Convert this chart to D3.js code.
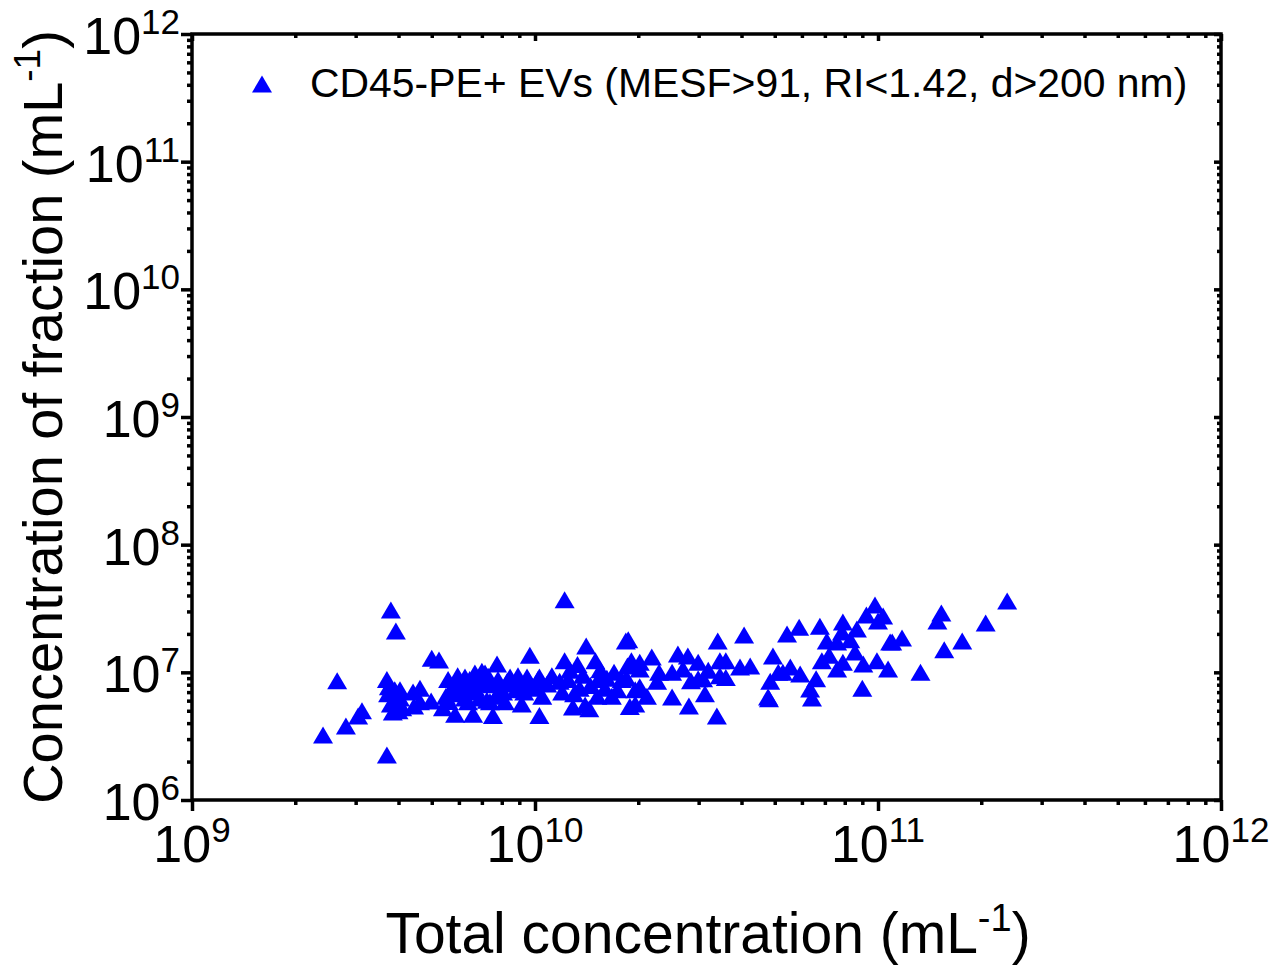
<!DOCTYPE html>
<html>
<head>
<meta charset="utf-8">
<script src="https://cdn.jsdelivr.net/npm/d3@7"></script>
<style>
  html, body { margin: 0; padding: 0; background: #fff; }
  svg text { font-family: "Liberation Sans", Arial, sans-serif; fill: #000; }
</style>
</head>
<body>
<svg id="chart" width="1274" height="968"></svg>
<script>
// total concentration (mL^-1) of each sample
const totalConc = [
  2.41e9, 2.65e9, 2.81e9, 3.05e9, 3.13e9, 3.80e9, 3.93e9, 3.70e9, 3.70e9, 3.73e9,
  3.80e9, 3.85e9, 4.04e9, 3.93e9, 4.10e9, 4.04e9, 4.41e9, 4.62e9, 4.44e9, 4.62e9,
  4.98e9, 5.00e9, 5.25e9, 5.39e9, 5.85e9, 3.75e9, 4.00e9, 3.90e9,
  5.58e9, 5.72e9, 5.95e9, 6.12e9, 6.25e9, 6.25e9, 6.45e9, 6.60e9, 6.68e9, 6.82e9,
  7.00e9, 7.15e9, 7.24e9, 7.39e9, 7.54e9, 7.75e9, 7.80e9, 7.90e9, 8.07e9, 8.17e9,
  8.46e9, 8.63e9, 8.92e9, 9.15e9, 9.48e9, 9.66e9, 9.78e9, 1.02e10, 1.03e10, 1.03e10,
  6.38e9, 6.60e9, 1.05e10, 1.085e10, 5.50e9, 5.80e9, 6.00e9, 6.30e9, 6.70e9, 6.90e9,
  7.10e9, 7.50e9, 7.70e9, 8.30e9, 8.80e9, 9.00e9, 9.30e9, 9.60e9, 1.00e10, 5.60e9, 7.30e9,
  1.18e10, 1.22e10, 1.41e10, 1.50e10, 1.84e10, 1.29e10, 1.44e10, 1.52e10, 1.62e10, 1.675e10,
  1.85e10, 1.89e10, 1.12e10, 1.265e10, 1.30e10, 1.35e10, 1.40e10, 1.53e10, 1.60e10, 1.74e10,
  1.79e10, 1.86e10, 1.91e10, 1.96e10, 2.02e10, 1.20e10, 1.25e10, 1.38e10, 1.45e10, 1.70e10,
  1.55e10, 1.33e10, 1.22e10, 1.87e10,
  3.41e10, 4.07e10, 5.43e10, 2.19e10, 2.02e10, 2.61e10, 2.79e10, 2.99e10, 3.46e10, 3.60e10,
  3.96e10, 4.24e10, 4.94e10, 5.28e10, 2.51e10, 2.70e10, 3.09e10, 2.27e10, 2.02e10, 3.46e10,
  3.60e10, 4.85e10, 2.51e10, 2.12e10, 1.96e10, 3.13e10, 2.81e10, 3.39e10, 4.81e10, 2.99e10,
  2.85e10, 3.20e10, 2.30e10,
  9.80e10, 9.25e10, 1.00e11, 7.90e10, 6.77e10, 5.89e10, 8.68e10, 7.85e10, 7.09e10, 7.60e10,
  1.175e11, 1.085e11, 8.57e10, 6.86e10, 9.93e10, 9.06e10, 1.07e11, 7.90e10, 5.55e10, 5.93e10,
  5.12e10, 6.60e10, 6.34e10, 9.00e10, 4.78e10, 6.42e10, 7.60e10, 7.20e10, 8.30e10,
  2.38e11, 1.53e11, 1.49e11, 2.06e11, 1.76e11, 1.56e11, 1.10e11, 1.035e11, 1.33e11
];

// concentration of the CD45-PE+ fraction (mL^-1), same order
const fractionConc = [
  3.23e6, 8.6e6, 3.8e6, 4.55e6, 5.0e6, 3.08e7, 2.11e7, 2.25e6, 8.8e6, 6.8e6,
  5.65e6, 4.9e6, 7.3e6, 6.05e6, 5.27e6, 6.3e6, 7.0e6, 7.5e6, 5.45e6, 5.87e6,
  5.97e6, 1.29e7, 1.25e7, 5.27e6, 4.7e6, 7.7e6, 5.0e6, 7.3e6,
  8.8e6, 7.3e6, 9.4e6, 7.5e6, 9.2e6, 6.3e6, 8.8e6, 7.0e6, 9.9e6, 8.1e6,
  1.02e7, 9.9e6, 6.05e6, 5.87e6, 4.6e6, 1.16e7, 8.8e6, 7.3e6, 7.0e6, 5.87e6,
  9.2e6, 8.1e6, 9.4e6, 5.65e6, 9.2e6, 1.36e7, 7.9e6, 8.8e6, 4.6e6, 9.2e6,
  5.87e6, 4.7e6, 6.5e6, 8.1e6, 6.5e6, 8.0e6, 6.8e6, 7.9e6, 7.5e6, 6.3e6,
  8.5e6, 8.0e6, 6.5e6, 8.5e6, 7.3e6, 8.1e6, 7.0e6, 8.5e6, 7.5e6, 5.9e6, 9.3e6,
  8.5e6, 1.23e7, 1.61e7, 1.23e7, 1.76e7, 5.36e6, 5.18e6, 6.5e6, 9.0e6, 6.5e6,
  9.0e6, 5.4e6, 9.4e6, 1.04e7, 6.8e6, 7.5e6, 5.55e6, 8.8e6, 7.5e6, 7.3e6,
  8.8e6, 1.12e7, 1.23e7, 7.3e6, 1.06e7, 7.0e6, 8.8e6, 9.5e6, 7.9e6, 1.0e7,
  1.05e7, 1.15e7, 3.7e7, 1.8e7,
  1.76e7, 1.96e7, 2.0e7, 1.32e7, 1.2e7, 1.39e7, 1.34e7, 1.2e7, 1.23e7, 1.23e7,
  1.1e7, 1.12e7, 1.34e7, 1.0e7, 1.0e7, 1.06e7, 8.9e6, 8.5e6, 7.7e6, 9.4e6,
  9.1e6, 8.5e6, 6.4e6, 6.5e6, 5.65e6, 6.8e6, 5.45e6, 4.55e6, 6.2e6, 8.9e6,
  8.6e6, 1.04e7, 1.0e7,
  3.37e7, 2.81e7, 2.52e7, 2.48e7, 2.3e7, 2.26e7, 2.18e7, 2.07e7, 1.76e7, 1.73e7,
  1.86e7, 1.73e7, 1.44e7, 1.23e7, 1.23e7, 1.16e7, 1.06e7, 1.2e7, 1.1e7, 9.7e6,
  1.0e7, 8.9e6, 7.4e6, 7.5e6, 6.4e6, 6.3e6, 1.06e7, 1.36e7, 1.8e7,
  3.62e7, 2.91e7, 2.52e7, 2.43e7, 1.76e7, 1.5e7, 1.73e7, 2.76e7, 1.0e7
];

const xMajor = [1e9, 1e10, 1e11, 1e12];
const xExp = ["9", "10", "11", "12"];
const yMajor = [1e6, 1e7, 1e8, 1e9, 1e10, 1e11, 1e12];
const yExp = ["6", "7", "8", "9", "10", "11", "12"];
const seriesName = "CD45-PE+ EVs (MESF>91, RI<1.42, d>200 nm)";

const margin = { top: 34, right: 53, bottom: 168, left: 192 },
      width = 1274 - margin.left - margin.right,
      height = 968 - margin.top - margin.bottom;

const svg = d3.select("#chart");
const g = svg.append("g")
  .attr("transform", `translate(${margin.left},${margin.top})`);

const x = d3.scaleLog().domain([1e9, 1e12]).range([0, width]);
const y = d3.scaleLog().domain([1e6, 1e12]).range([height, 0]);

// minor ticks 2..9 in every decade
const minorOf = major => {
  const out = [];
  for (let i = 0; i < major.length - 1; i++)
    for (let k = 2; k <= 9; k++) out.push(major[i] * k);
  return out;
};
const xMinor = minorOf(xMajor);
const yMinor = minorOf(yMajor);

const axisStroke = 3.5;

function styleAxis(sel) {
  sel.select(".domain").remove();
  sel.selectAll("line").attr("stroke", "#000").attr("stroke-width", axisStroke);
  sel.selectAll("text").remove();
}

// bottom / left: ticks out; top / right: short ticks in
g.append("g").attr("transform", `translate(0,${height})`)
  .call(d3.axisBottom(x).tickValues(xMinor).tickSize(5)).call(styleAxis);
g.append("g").attr("transform", `translate(0,${height})`)
  .call(d3.axisBottom(x).tickValues(xMajor).tickSize(11)).call(styleAxis);
g.append("g")
  .call(d3.axisLeft(y).tickValues(yMinor).tickSize(5)).call(styleAxis);
g.append("g")
  .call(d3.axisLeft(y).tickValues(yMajor).tickSize(11)).call(styleAxis);
g.append("g")
  .call(d3.axisTop(x).tickValues(xMinor).tickSize(-4)).call(styleAxis);
g.append("g")
  .call(d3.axisTop(x).tickValues(xMajor).tickSize(-7)).call(styleAxis);
g.append("g").attr("transform", `translate(${width},0)`)
  .call(d3.axisRight(y).tickValues(yMinor).tickSize(-4)).call(styleAxis);
g.append("g").attr("transform", `translate(${width},0)`)
  .call(d3.axisRight(y).tickValues(yMajor).tickSize(-7)).call(styleAxis);

// frame
g.append("rect")
  .attr("width", width)
  .attr("height", height)
  .attr("fill", "none")
  .attr("stroke", "#000")
  .attr("stroke-width", axisStroke);

// tick labels as 10 with superscript exponent
const labelSize = 52, supSize = 35;

xMajor.forEach((v, i) => {
  const t = g.append("text")
    .attr("x", x(v))
    .attr("y", height + 62)
    .attr("text-anchor", "middle")
    .style("font-size", labelSize + "px");
  t.append("tspan").text("10");
  t.append("tspan").attr("dy", -20).style("font-size", supSize + "px").text(xExp[i]);
});

yMajor.forEach((v, i) => {
  const t = g.append("text")
    .attr("x", -12)
    .attr("y", y(v) + 20)
    .attr("text-anchor", "end")
    .style("font-size", labelSize + "px");
  t.append("tspan").text("10");
  t.append("tspan").attr("dy", -20).style("font-size", supSize + "px").text(yExp[i]);
});

// axis titles
const titleSize = 56;
const xt = svg.append("text")
  .attr("x", 708)
  .attr("y", 953)
  .attr("text-anchor", "middle")
  .style("font-size", "57px");
xt.append("tspan").text("Total concentration (mL");
xt.append("tspan").attr("dy", -22).style("font-size", "38px").text("-1");
xt.append("tspan").attr("dy", 22).text(")");

const yt = svg.append("text")
  .attr("transform", `translate(62,${margin.top + height / 2}) rotate(-90)`)
  .attr("text-anchor", "middle")
  .style("font-size", titleSize + "px");
yt.append("tspan").text("Concentration of fraction (mL");
yt.append("tspan").attr("dy", -22).style("font-size", "37px").text("-1");
yt.append("tspan").attr("dy", 22).text(")");

// triangle marker centred on its bounding box
const tri = "M0,-8.5L10,8.5L-10,8.5Z";

const points = totalConc.map((t, i) => ({ total: t, fraction: fractionConc[i] }));

g.append("g")
  .selectAll("path")
  .data(points)
  .enter()
  .append("path")
  .attr("d", tri)
  .attr("transform", d => `translate(${x(d.total)},${y(d.fraction)})`)
  .attr("fill", "#0000ff");

// legend
const legend = svg.append("g").attr("transform", "translate(262,84)");
legend.append("path").attr("d", tri).attr("fill", "#0000ff");
legend.append("text")
  .attr("x", 48)
  .attr("y", 13)
  .style("font-size", "40.9px")
  .text(seriesName);
</script>
</body>
</html>
